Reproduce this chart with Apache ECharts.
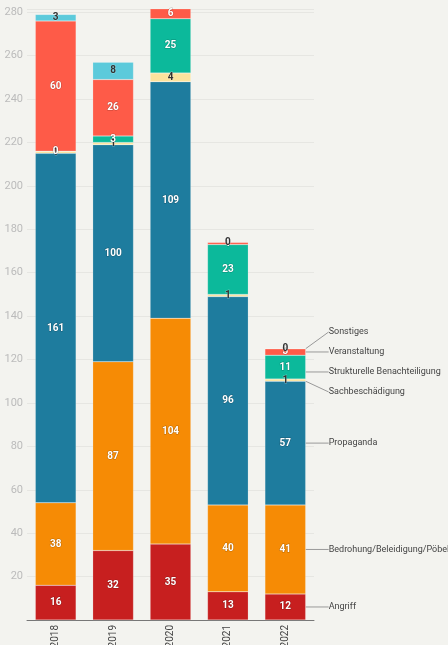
<!DOCTYPE html>
<html>
<head>
<meta charset="utf-8">
<script src="https://cdn.jsdelivr.net/npm/echarts@6/dist/echarts.min.js"></script>
<style>
  html, body { margin: 0; padding: 0; background: #f3f3ef; }
  #main { width: 448px; height: 645px; }
</style>
</head>
<body>
<div id="main"></div>
<script>
var years = ['2018', '2019', '2020', '2021', '2022'];
var angriff = [16, 32, 35, 13, 12];
var bedrohung = [38, 87, 104, 40, 41];
var propaganda = [161, 100, 109, 96, 57];
var sachbeschaedigung = [1, 1, 4, 1, 1];
var strukturelle = [0, 3, 25, 23, 11];
var veranstaltung = [60, 26, 6, 1, 3];
var sonstiges = [3, 8, 3, 0, 0];

var seriesDefs = [
    {name: 'Angriff', data: angriff, color: '#c71f1f', text: '#fff'},
    {name: 'Bedrohung/Beleidigung/Pöbelei', data: bedrohung, color: '#f68b05', text: '#fff'},
    {name: 'Propaganda', data: propaganda, color: '#1e7c9e', text: '#fff'},
    {name: 'Sachbeschädigung', data: sachbeschaedigung, color: '#fbe39d', text: '#333'},
    {name: 'Strukturelle Benachteiligung', data: strukturelle, color: '#0cb99b', text: '#fff'},
    {name: 'Veranstaltung', data: veranstaltung, color: '#fe5b48', text: '#fff'},
    {name: 'Sonstiges', data: sonstiges, color: '#5ccadb', text: '#333'}
];

var last = years.length - 1;
var labelGap = 20;
var labelY = {};   // pixel y of each name label, filled after the first render

var series = [];
seriesDefs.forEach(function (d) {
    series.push({
        name: d.name,
        type: 'bar',
        stack: 'main',
        barCategoryGap: '29%',
        barGap: '-100%',
        data: d.data,
        itemStyle: {color: d.color, borderColor: 'rgba(255,255,255,0.35)', borderWidth: 0.5},
        label: {
            show: true,
            position: 'inside',
            color: d.text,
            fontSize: 10,
            fontWeight: 'bold',
            fontFamily: 'Roboto',
            textBorderColor: d.text === '#fff' ? 'rgba(0,0,0,0.25)' : 'rgba(255,255,255,0.3)',
            textBorderWidth: 1
        }
    });
});

// transparent copy of the last year, only used to carry the name labels on the right
seriesDefs.forEach(function (d, k) {
    series.push({
        name: d.name,
        type: 'bar',
        stack: 'names',
        barCategoryGap: '29%',
        barGap: '-100%',
        silent: true,
        data: d.data.map(function (v, i) { return i === last ? v : '-'; }),
        itemStyle: {color: 'rgba(0,0,0,0)'},
        label: {
            show: true,
            position: 'right',
            formatter: '{a}',
            color: '#444',
            fontSize: 9,
            fontFamily: 'Roboto'
        },
        labelLine: {show: true, lineStyle: {color: '#999', width: 1}},
        labelLayout: function (p) {
            return {
                x: p.rect.x + p.rect.width + 23,
                y: labelY[k] != null ? labelY[k] : p.rect.y + p.rect.height / 2,
                align: 'left',
                verticalAlign: 'middle'
            };
        }
    });
});

var chart = echarts.init(document.getElementById('main'));
chart.setOption({
    backgroundColor: '#f3f3ef',
    animation: false,
    grid: {left: 27, right: 134, top: 9, bottom: 25, outerBoundsMode: 'none'},
    xAxis: {
        type: 'category',
        data: years,
        axisLine: {lineStyle: {color: '#777', width: 1}},
        axisTick: {show: false},
        axisLabel: {rotate: 90, color: '#444', fontSize: 10, fontFamily: 'Roboto', margin: 5}
    },
    yAxis: {
        type: 'value',
        min: 0,
        max: 281.5,
        interval: 20,
        axisLine: {show: false},
        axisTick: {show: false},
        splitLine: {lineStyle: {color: '#e6e6e2', width: 1}},
        axisLabel: {
            color: '#bbb',
            fontSize: 11,
            fontFamily: 'Roboto',
            margin: 4,
            formatter: function (v) { return (v > 0 && v % 20 === 0) ? v : ''; }
        }
    },
    series: series
});

// spread the name labels: overlapping ones are grouped and centred on their mean
var items = [];
var base = 0;
seriesDefs.forEach(function (d, k) {
    var v = d.data[last];
    var mid = base + v / 2;
    base += v;
    items.push({k: k, y: chart.convertToPixel({yAxisIndex: 0}, mid)});
});
items.sort(function (a, b) { return a.y - b.y; });
var groups = [];
items.forEach(function (it) {
    groups.push({members: [it], sum: it.y});
    while (groups.length > 1) {
        var g = groups[groups.length - 1];
        var prev = groups[groups.length - 2];
        var gTop = g.sum / g.members.length - (g.members.length - 1) * labelGap / 2;
        var pBottom = prev.sum / prev.members.length + (prev.members.length - 1) * labelGap / 2;
        if (gTop - pBottom >= labelGap) break;
        prev.members = prev.members.concat(g.members);
        prev.sum += g.sum;
        groups.pop();
    }
});
groups.forEach(function (g) {
    var n = g.members.length;
    var top = g.sum / n - (n - 1) * labelGap / 2;
    g.members.forEach(function (it, j) { labelY[it.k] = top + j * labelGap; });
});
chart.setOption({series: series});
</script>
</body>
</html>
